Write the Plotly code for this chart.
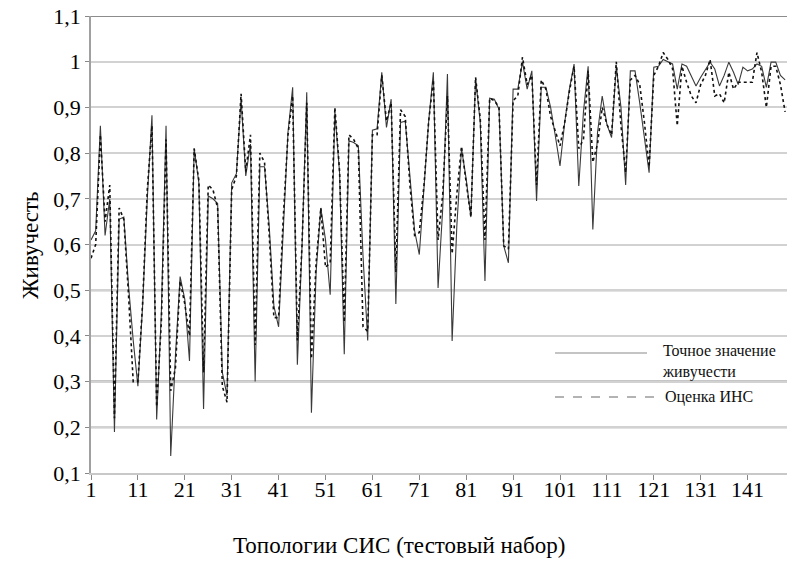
import plotly.graph_objects as go

topology = list(range(1, 150))

exact = [
    0.61, 0.63, 0.86, 0.62, 0.70, 0.19, 0.655, 0.66, 0.51, 0.39,
    0.29, 0.465, 0.70, 0.883, 0.217, 0.45, 0.86, 0.137, 0.356, 0.53,
    0.48, 0.345, 0.81, 0.735, 0.24, 0.706, 0.70, 0.69, 0.32, 0.27,
    0.735, 0.755, 0.918, 0.75, 0.82, 0.30, 0.77, 0.77, 0.64, 0.465,
    0.42, 0.65, 0.845, 0.944, 0.337, 0.597, 0.933, 0.232, 0.54, 0.68,
    0.61, 0.49, 0.89, 0.757, 0.36, 0.827, 0.823, 0.816, 0.575, 0.39,
    0.85, 0.853, 0.977, 0.856, 0.918, 0.47, 0.867, 0.87, 0.743, 0.63,
    0.578, 0.735, 0.87, 0.977, 0.505, 0.68, 0.973, 0.389, 0.64, 0.81,
    0.743, 0.66, 0.962, 0.867, 0.52, 0.92, 0.918, 0.896, 0.597, 0.56,
    0.94, 0.94, 0.999, 0.94, 0.98, 0.695, 0.944, 0.944, 0.90, 0.838,
    0.772, 0.867, 0.94, 0.995, 0.728, 0.89, 0.99, 0.633, 0.845, 0.925,
    0.863, 0.834, 0.99, 0.90, 0.73, 0.98, 0.98, 0.91, 0.83, 0.757,
    0.988, 0.99, 1.005, 1.0, 0.995, 0.94, 0.995, 0.99, 0.97, 0.947,
    0.966, 0.984, 0.999, 0.984, 0.947, 0.97, 0.999, 0.977, 0.95, 0.988,
    0.98, 0.984, 0.995, 0.99, 0.944, 0.999, 0.999, 0.97, 0.96,
]

ann_estimate = [
    0.57, 0.60, 0.84, 0.65, 0.73, 0.22, 0.68, 0.655, 0.49, 0.30,
    0.30, 0.47, 0.72, 0.86, 0.245, 0.43, 0.83, 0.28, 0.33, 0.52,
    0.47, 0.40, 0.81, 0.74, 0.32, 0.73, 0.72, 0.68, 0.29, 0.255,
    0.72, 0.75, 0.93, 0.76, 0.84, 0.38, 0.80, 0.78, 0.62, 0.44,
    0.44, 0.66, 0.84, 0.925, 0.39, 0.60, 0.91, 0.35, 0.56, 0.68,
    0.55, 0.56, 0.90, 0.76, 0.43, 0.84, 0.83, 0.81, 0.42, 0.41,
    0.84, 0.84, 0.97, 0.87, 0.91, 0.54, 0.895, 0.88, 0.73, 0.62,
    0.626, 0.73, 0.87, 0.96, 0.61, 0.71, 0.925, 0.58, 0.71, 0.815,
    0.735, 0.66, 0.966, 0.875, 0.61, 0.92, 0.915, 0.90, 0.597, 0.59,
    0.915, 0.925, 1.01, 0.95, 0.97, 0.73, 0.96, 0.94, 0.88, 0.85,
    0.816, 0.867, 0.935, 0.99, 0.81, 0.83, 0.98, 0.78, 0.82, 0.90,
    0.863, 0.84, 1.0, 0.86, 0.757, 0.96, 0.97, 0.95, 0.867, 0.77,
    0.97, 0.99, 1.02, 1.005, 0.985, 0.86, 0.99, 0.955, 0.925, 0.91,
    0.95, 0.97, 1.005, 0.925, 0.93, 0.91, 0.977, 0.94, 0.955, 0.955,
    0.955, 0.955, 1.02, 0.977, 0.90, 0.99, 0.99, 0.95, 0.89,
]

x_tickvals = list(range(1, 150, 10))
x_ticktext = [str(v) for v in x_tickvals]
y_tickvals = [0.1, 0.2, 0.3, 0.4, 0.5, 0.6, 0.7, 0.8, 0.9, 1.0, 1.1]
y_ticktext = ["0,1", "0,2", "0,3", "0,4", "0,5", "0,6", "0,7", "0,8", "0,9", "1", "1,1"]
dark_grid = [0.2, 0.3, 0.5, 1.1]

legend_exact = "Точное значение<br>живучести"
legend_ann = "Оценка ИНС"
x_title = "Топологии СИС (тестовый набор)"
y_title = "Живучесть"

FONT = "Liberation Serif"

# plot-area geometry in pixels (used to place layout-only items)
L, R, T, B = 91, 787, 16, 473
PW, PH = R - L, B - T


def px(xp):
    return (xp - L) / PW


def py(yp):
    return (B - yp) / PH


fig = go.Figure()
fig.add_trace(go.Scatter(x=topology, y=exact, mode="lines",
                         line=dict(color="#3a3a3a", width=1.1),
                         name="exact", showlegend=False))
fig.add_trace(go.Scatter(x=topology, y=ann_estimate, mode="lines",
                         line=dict(color="#111111", width=1.6, dash="dot"),
                         name="ann", showlegend=False))

shapes = []
for g in dark_grid:
    shapes.append(dict(type="line", xref="paper", yref="y", x0=0, x1=1, y0=g, y1=g,
                       line=dict(color="#8c8c8c", width=2), layer="below"))
# custom legend samples
shapes.append(dict(type="line", xref="paper", yref="paper",
                   x0=px(555), x1=px(647), y0=py(353), y1=py(353),
                   line=dict(color="#c4c4c4", width=2)))
shapes.append(dict(type="line", xref="paper", yref="paper",
                   x0=px(555), x1=px(655), y0=py(397), y1=py(397),
                   line=dict(color="#9a9a9a", width=1.5, dash="dash")))

annotations = [
    dict(text=legend_exact, xref="paper", yref="paper",
         x=px(660), y=py(361), xanchor="left", yanchor="middle",
         showarrow=False, align="left", font=dict(family=FONT, size=16, color="#111")),
    dict(text=legend_ann, xref="paper", yref="paper",
         x=px(663), y=py(397), xanchor="left", yanchor="middle",
         showarrow=False, align="left", font=dict(family=FONT, size=16, color="#111")),
    dict(text=x_title, xref="paper", yref="paper", x=px(399), y=py(545),
         xanchor="center", yanchor="middle", showarrow=False,
         font=dict(family=FONT, size=23, color="black")),
    dict(text=y_title, xref="paper", yref="paper", x=px(30), y=py(245),
         xanchor="center", yanchor="middle", textangle=-90, showarrow=False,
         font=dict(family=FONT, size=23, color="black")),
]

fig.update_layout(
    width=787, height=562,
    margin=dict(l=L, r=787 - R, t=T, b=562 - B),
    paper_bgcolor="white", plot_bgcolor="white",
    font=dict(family=FONT, size=22, color="black"),
    shapes=shapes, annotations=annotations,
    showlegend=False,
)
fig.update_xaxes(range=[1, 149.4], tickvals=x_tickvals, ticktext=x_ticktext,
                 showgrid=False, zeroline=False, showline=True,
                 linecolor="#c8c8c8", linewidth=2,
                 ticks="outside", ticklen=5, tickcolor="#888", tickwidth=1,
                 ticklabelstandoff=-9)
fig.update_yaxes(range=[0.1, 1.1], tickvals=y_tickvals, ticktext=y_ticktext,
                 showgrid=True, gridcolor="#d2d2d2", gridwidth=2,
                 zeroline=False, showline=True, linecolor="#a0a0a0", linewidth=1.5,
                 ticks="outside", ticklen=4, tickcolor="#888")

fig.write_html("out.html")
